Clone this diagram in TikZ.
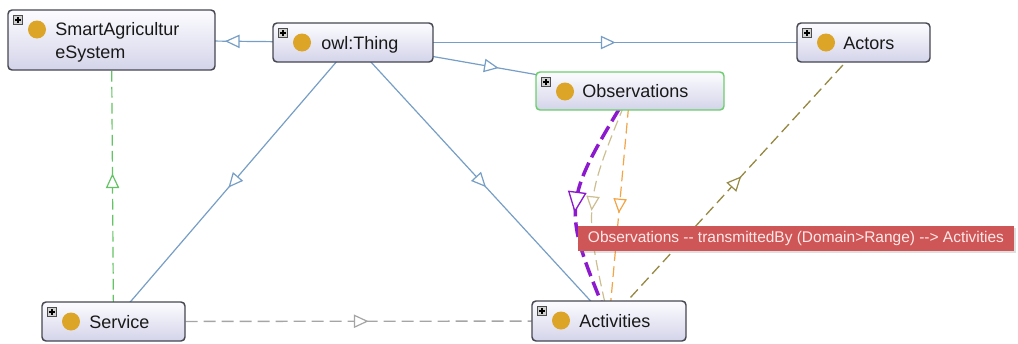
\documentclass[tikz,border=0pt]{standalone}
\usepackage{fontspec}
\setmainfont{Liberation Sans}
\usetikzlibrary{arrows.meta,decorations.markings,backgrounds,shadows}
\definecolor{edgeblue}{RGB}{118,158,198}
\definecolor{greenedge}{RGB}{100,195,100}
\definecolor{greyedge}{RGB}{165,165,165}
\definecolor{oliveedge}{RGB}{150,138,70}
\definecolor{purpleedge}{RGB}{140,25,205}
\definecolor{tanedge}{RGB}{205,190,145}
\definecolor{orangeedge}{RGB}{242,165,70}
\definecolor{nodeborder}{RGB}{70,70,82}
\definecolor{obsborder}{RGB}{110,205,110}
\definecolor{nodetop}{RGB}{252,252,255}
\definecolor{nodebottom}{RGB}{212,212,234}
\definecolor{gold}{RGB}{220,165,40}
\definecolor{labelred}{RGB}{207,86,86}
\definecolor{labeltext}{RGB}{255,232,232}
\tikzset{
  clsbox/.style={rectangle, rounded corners=3pt, line width=1.1pt, top color=nodetop, bottom color=nodebottom, inner sep=0pt, outer sep=0pt},
  plusbox/.style={rectangle, draw=black!70, fill=black!18, line width=0.5pt, minimum size=7pt, inner sep=0pt,
    path picture={\draw[line width=0.9pt,black] ([xshift=1.5pt]path picture bounding box.west) -- ([xshift=-1.5pt]path picture bounding box.east)
      ([yshift=-1.5pt]path picture bounding box.north) -- ([yshift=1.5pt]path picture bounding box.south);}},
  goldball/.style={circle, fill=gold, minimum size=13.5pt, inner sep=0pt},
  clstext/.style={anchor=base west, inner sep=0pt, font=\fontsize{13.5}{16}\selectfont, text=black!90},
  isa/.style={draw=edgeblue, line width=0.9pt},
  greendash/.style={draw=greenedge, line width=0.9pt, dash pattern=on 8pt off 4pt},
  greydash/.style={draw=greyedge, line width=1pt, dash pattern=on 9pt off 4.5pt},
  olivedash/.style={draw=oliveedge, line width=1pt, dash pattern=on 8pt off 4pt},
  orangedash/.style={draw=orangeedge, line width=0.9pt, dash pattern=on 8pt off 4pt},
  tandash/.style={draw=tanedge, line width=0.9pt, dash pattern=on 8pt off 4pt},
  purpledash/.style={draw=purpleedge, line width=2.6pt, dash pattern=on 11pt off 4.5pt},
  midarr/.style={postaction={decorate}, decoration={markings, mark=at position 0.5 with {\pgftransformxshift{5.5pt}\arrow{Triangle[fill=white, line width=0.9pt, length=11pt, width=10pt]}}}},
  bigarr/.style={postaction={decorate}, decoration={markings, mark=at position 0.5 with {\pgftransformxshift{8pt}\arrow{Triangle[fill=white, line width=1pt, length=16pt, width=14pt]}}}},
  labelbox/.style={rectangle, fill=labelred, text=labeltext, inner sep=0pt, font=\fontsize{11.6}{13}\selectfont,
    drop shadow={shadow xshift=1.5pt, shadow yshift=-1.5pt, opacity=0.25}}
}
\newcommand\clsnode[6]{%
  \node[clsbox, draw=#6, minimum width={(#4-#2)*0.75pt}, minimum height={(#5-#3)*0.75pt}] (#1) at ({(#2+#4)/2},{(#3+#5)/2}) {};
  \node[plusbox] (#1-plus) at ({#2+10},{#3+10}) {};
  \node[goldball] (#1-ball) at ({#2+29},{#3+19.5}) {};
}
\newcommand\hy{\mbox{-}}
\begin{document}
\begin{tikzpicture}[x=0.75pt,y=-0.75pt]
\useasboundingbox (0,0) rectangle (1018,343);
% class nodes
\clsnode{smart}{8}{10}{215}{70}{nodeborder}
\node[clstext] (smart-t1) at (55,35) {SmartAgricultur};
\node[clstext] (smart-t2) at (55,58) {eSystem};
\clsnode{thing}{273}{23}{433}{62}{nodeborder}
\node[clstext] (thing-t) at (321,49) {owl:Thing};
\clsnode{actors}{797}{23}{930}{62}{nodeborder}
\node[clstext] (actors-t) at (843,49) {Actors};
\clsnode{obs}{536}{72}{724}{110}{obsborder}
\node[clstext] (obs-t) at (582,97) {Observations};
\clsnode{service}{42}{302}{185}{341}{nodeborder}
\node[clstext] (service-t) at (89,328) {Service};
\clsnode{act}{532}{301}{686}{341}{nodeborder}
\node[clstext] (act-t) at (579,327) {Activities};
% connectors
\begin{pgfonlayer}{background}
\draw[isa, midarr] (thing.center) -- (smart.center);
\draw[isa, midarr] (thing.center) -- (actors.center);
\draw[isa, midarr] (thing.center) -- (obs.center);
\draw[isa, midarr] (thing.center) -- (service.center);
\draw[isa, midarr] (thing.center) -- (act.center);
\draw[greendash, midarr] (service.center) -- (smart.center);
\draw[greydash, midarr] (service.center) -- (act.center);
\draw[olivedash, midarr] (act.center) -- (actors.center);
\draw[orangedash, midarr] (obs.center) -- (act.center);
\draw[tandash, midarr] (obs.center) .. controls (583,205) .. (act.center);
\draw[purpledash, bigarr] (obs.center) .. controls (561,205) .. (act.center);
\end{pgfonlayer}
% tooltip label
\node[labelbox, minimum width={436*0.75pt}, minimum height={25*0.75pt}] (lbl) at (796,238.5) {Observations \hy\hy{} transmittedBy (Domain>Range) \hy\hy> Activities};
\end{tikzpicture}
\end{document}
